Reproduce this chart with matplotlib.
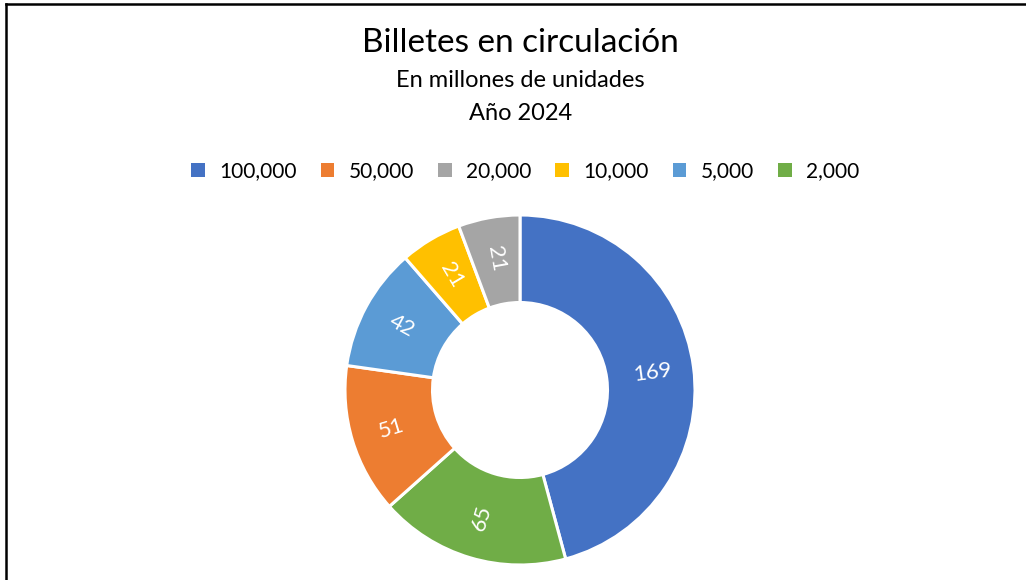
import numpy as np
import matplotlib.pyplot as plt
from matplotlib.patches import Patch
from matplotlib.lines import Line2D

plt.rcParams['font.family'] = ['Lato', 'DejaVu Sans']

# datos (orden de la leyenda)
denominaciones = ['100,000', '50,000', '20,000', '10,000', '5,000', '2,000']
billetes = [169, 51, 21, 21, 42, 65]
colores = ['#4472C4', '#ED7D31', '#A5A5A5', '#FFC000', '#5B9BD5', '#70AD47']

# orden en el anillo, en sentido horario desde arriba
orden_anillo = [0, 5, 1, 4, 3, 2]

fig = plt.figure(figsize=(10.26, 5.8), dpi=100)

# anillo
cx, cy, r = 520, 390, 175
ax = fig.add_axes([(cx - r) / 1026, (580 - cy - r) / 580, 2 * r / 1026, 2 * r / 580])
vals = [billetes[i] for i in orden_anillo]
cols = [colores[i] for i in orden_anillo]
wedges, _ = ax.pie(vals, colors=cols, startangle=90, counterclock=False, radius=1,
                   wedgeprops=dict(width=0.5, edgecolor='white', linewidth=2.2))
ax.set_xlim(-1, 1)
ax.set_ylim(-1, 1)
ax.set_aspect('equal')
ax.axis('off')

# etiquetas de datos, giradas en dirección radial
for w, v in zip(wedges, vals):
    ang = np.deg2rad((w.theta1 + w.theta2) / 2)
    x, y = 0.765 * np.cos(ang), 0.765 * np.sin(ang)
    rot = np.rad2deg(ang)
    if x < 0:
        rot += 180
    ax.text(x, y, str(v), color='white', fontsize=16, ha='center', va='center',
            rotation=rot, rotation_mode='anchor')

# títulos
fig.text(0.507, 1 - 43 / 580, 'Billetes en circulación', ha='center', va='center',
         fontsize=24)
fig.text(0.507, 1 - 80 / 580, 'En millones de unidades', ha='center', va='center',
         fontsize=17)
fig.text(0.507, 1 - 113 / 580, 'Año 2024', ha='center', va='center',
         fontsize=17)

# leyenda
handles = [Patch(facecolor=c, edgecolor='none') for c in colores]
fig.legend(handles, denominaciones, loc='center', bbox_to_anchor=(0.512, 1 - 171 / 580),
           ncol=6, frameon=False, fontsize=15, handlelength=0.65, handleheight=0.65,
           handletextpad=0.7, columnspacing=1.15)

# borde del gráfico (arriba e izquierda)
fig.add_artist(Line2D([6 / 1026, 6 / 1026], [0, 1 - 4 / 580], color='black', lw=1.8,
                      transform=fig.transFigure))
fig.add_artist(Line2D([6 / 1026, 1], [1 - 4 / 580, 1 - 4 / 580], color='black', lw=1.8,
                      transform=fig.transFigure))

fig.savefig('out.png', dpi=100)
